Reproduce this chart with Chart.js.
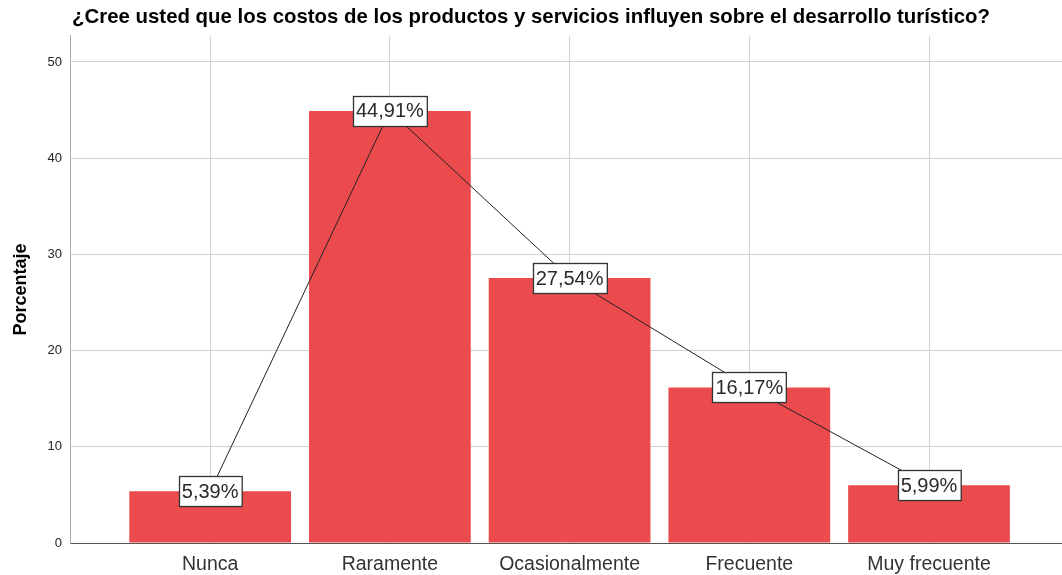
<!DOCTYPE html>
<html>
<head>
<meta charset="utf-8">
<script src="https://cdn.jsdelivr.net/npm/chart.js@4.4.1/dist/chart.umd.min.js"></script>
<style>
  html, body { margin: 0; padding: 0; background: #fff; }
  #wrap { width: 1062px; height: 575px; }
</style>
</head>
<body>
<div id="wrap"><canvas id="chart" width="1062" height="575"></canvas></div>
<script>
const categories = ['Nunca', 'Raramente', 'Ocasionalmente', 'Frecuente', 'Muy frecuente'];
const percentages = [5.39, 44.91, 27.54, 16.17, 5.99];
const yTicks = [0, 10, 20, 30, 40, 50];

const FONT = "'Liberation Sans', Arial, sans-serif";
const barColor = '#EC4B4E';

const points = percentages.map((v, i) => ({ x: i, y: v }));

// white boxes with the percentage on each point of the line
const boxLabels = {
  id: 'boxLabels',
  afterDatasetsDraw(chart) {
    const ctx = chart.ctx;
    const meta = chart.getDatasetMeta(1);
    ctx.save();
    ctx.font = '20px ' + FONT;
    ctx.textAlign = 'center';
    ctx.textBaseline = 'middle';
    meta.data.forEach((pt, i) => {
      const txt = percentages[i].toFixed(2).replace('.', ',') + '%';
      const w = ctx.measureText(txt).width + 6;
      const h = 30;
      const x = Math.round(pt.x - w / 2) + 0.5;
      const y = Math.round(pt.y - h / 2) + 0.5;
      ctx.fillStyle = '#fff';
      ctx.fillRect(x, y, w, h);
      ctx.strokeStyle = '#333';
      ctx.lineWidth = 1.3;
      ctx.strokeRect(x, y, w, h);
      ctx.fillStyle = '#2a2a2a';
      ctx.fillText(txt, pt.x, pt.y + 1);
    });
    ctx.restore();
  }
};

new Chart(document.getElementById('chart'), {
  type: 'bar',
  data: {
    datasets: [
      {
        type: 'bar',
        data: points,
        backgroundColor: barColor,
        borderWidth: 0,
        categoryPercentage: 1,
        barPercentage: 0.9,
        order: 1
      },
      {
        type: 'line',
        data: points,
        borderColor: '#222',
        borderWidth: 1,
        pointRadius: 0,
        tension: 0,
        order: 0
      }
    ]
  },
  options: {
    responsive: false,
    animation: false,
    layout: { padding: 0 },
    plugins: {
      legend: { display: false },
      tooltip: { enabled: false },
      title: {
        display: true,
        text: '¿Cree usted que los costos de los productos y servicios influyen sobre el desarrollo turístico?',
        align: 'center',
        color: '#000',
        font: { family: FONT, size: 20.4, weight: 'bold', lineHeight: 1.2 },
        padding: { top: 5.5, bottom: 6 }
      }
    },
    scales: {
      x: {
        type: 'linear',
        offset: false,
        min: -0.78,
        max: 4.74,
        grid: { color: '#d2d2d2', lineWidth: 1, drawTicks: false, offset: false },
        border: { color: '#555', width: 1 },
        ticks: {
          stepSize: 1,
          includeBounds: false,
          autoSkip: false,
          maxRotation: 0,
          padding: 10,
          color: '#333',
          font: { family: FONT, size: 19.5 },
          callback: (v) => categories[v] || ''
        },
        afterFit: (s) => { s.height = 32; }
      },
      y: {
        min: 0,
        max: 52.7,
        afterBuildTicks: (s) => { s.ticks = yTicks.map(v => ({ value: v })); },
        grid: { color: '#d2d2d2', lineWidth: 1, drawTicks: false },
        border: { color: '#aaa', width: 1 },
        ticks: {
          padding: 8,
          color: '#222',
          font: { family: FONT, size: 13 }
        },
        title: {
          display: true,
          text: 'Porcentaje',
          color: '#000',
          font: { family: FONT, size: 18, weight: 'bold' },
          padding: { top: 10, bottom: 0 }
        },
        afterFit: (s) => { s.width = 70; }
      }
    }
  },
  plugins: [boxLabels]
});
</script>
</body>
</html>
